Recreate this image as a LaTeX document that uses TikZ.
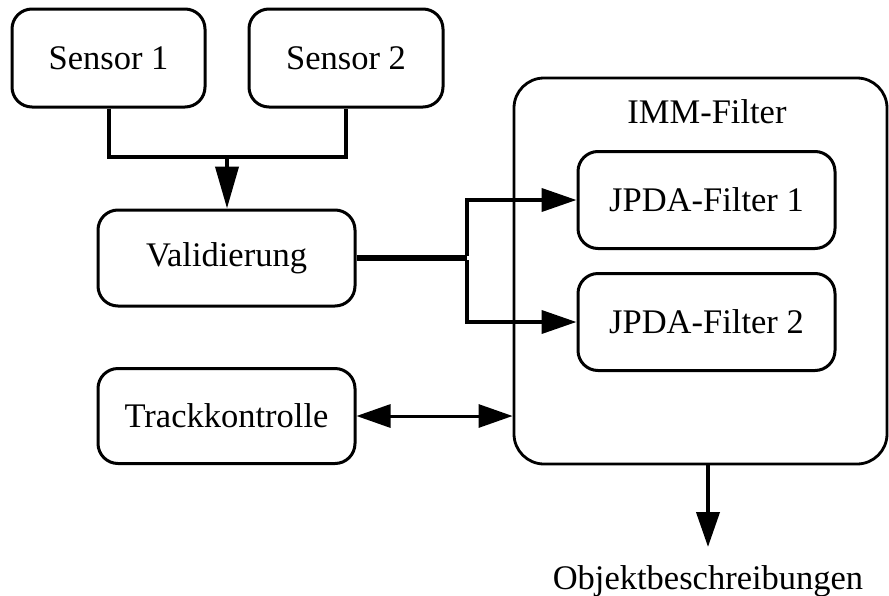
\documentclass[tikz,border=0pt]{standalone}
\usepackage{fontspec}
\setmainfont{Liberation Serif}
\usetikzlibrary{arrows.meta}
\begin{document}
\begin{tikzpicture}[x=1pt,y=-1pt,
  every node/.style={font=\fontsize{34.5}{40}\selectfont},
  blk/.style={draw,line width=3pt,rounded corners=20pt,inner sep=0pt},
  outer/.style={draw,line width=2.8pt,rounded corners=30pt,inner sep=0pt},
  conn/.style={line width=4pt},
  arr/.style={line width=4pt,-{Triangle[length=35pt,width=23pt]}},
  darr/.style={line width=3pt,{Triangle[length=34pt,width=23pt]}-{Triangle[length=34pt,width=23pt]}}]
\useasboundingbox (0,0) rectangle (889,595);
\node[blk,minimum width=193pt,minimum height=98pt] (s1) at (108.5,58) {Sensor 1};
\node[blk,minimum width=194pt,minimum height=98pt] (s2) at (346,58) {Sensor 2};
\node[blk,minimum width=257pt,minimum height=96pt] (val) at (226.5,258) {Validierung};
\node[blk,minimum width=257pt,minimum height=95pt] (tk) at (226.5,416) {Trackkontrolle};
\node[outer,minimum width=373pt,minimum height=386pt] (imm) at (700.5,271) {};
\node (immlab) at (707,112) {IMM-Filter};
\node[blk,minimum width=257pt,minimum height=97pt] (f1) at (706.5,200) {JPDA-Filter 1};
\node[blk,minimum width=257pt,minimum height=97pt] (f2) at (706.5,322) {JPDA-Filter 2};
\node[anchor=base,inner sep=0pt] (obj) at (708,589) {Objektbeschreibungen};
\coordinate (j) at (227,157);
\coordinate (br) at (467,258);
\coordinate (objin) at (708,547);
\draw[conn] (s1.south) |- (j) -| (s2.south);
\draw[line width=4pt,-{Triangle[length=42pt,width=23pt]}] (j) -- (val.north -| j);
\draw[line width=5.5pt] (val.east) -- (br);
\draw[arr] ([yshift=2pt]br) |- (f1.west);
\draw[arr] ([yshift=-2pt]br) |- (f2.west);
\draw[darr] (tk.east) -- (tk.east -| imm.west);
\draw[arr] (objin |- imm.south) -- (objin);
\end{tikzpicture}
\end{document}
